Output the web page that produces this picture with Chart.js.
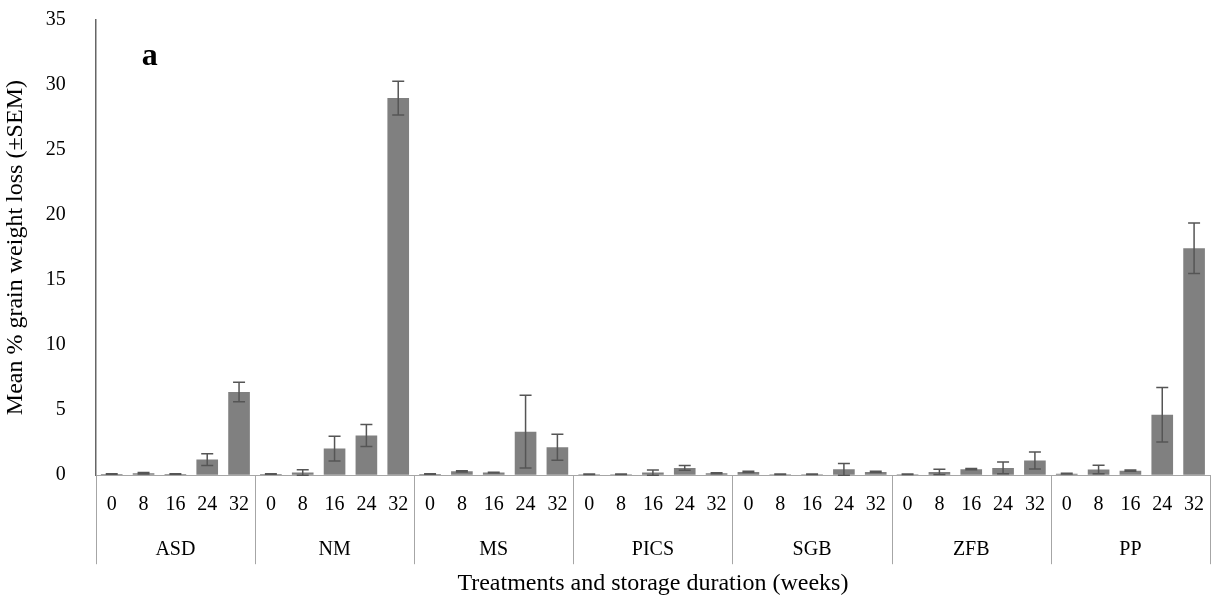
<!DOCTYPE html>
<html>
<head>
<meta charset="utf-8">
<script src="https://cdn.jsdelivr.net/npm/chart.js@4.4.1/dist/chart.umd.min.js"></script>
<style>
  html, body { margin: 0; padding: 0; background: #fff; }
  #wrap { width: 1218px; height: 604px; }
</style>
</head>
<body>
<div id="wrap"><canvas id="myChart"></canvas></div>
<script>
const groups = ["ASD", "NM", "MS", "PICS", "SGB", "ZFB", "PP"];
const weeks = ["0", "8", "16", "24", "32"];

// mean % weight loss, one row of 5 per treatment
const lossASD = [0.1, 0.15, 0.1, 1.2, 6.4];
const lossNM = [0.1, 0.2, 2.05, 3.05, 29.0];
const lossMS = [0.1, 0.3, 0.2, 3.35, 2.15];
const lossPICS = [0.08, 0.08, 0.2, 0.56, 0.15];
const lossSGB = [0.25, 0.07, 0.07, 0.45, 0.25];
const lossZFB = [0.07, 0.25, 0.46, 0.56, 1.13];
const lossPP = [0.12, 0.44, 0.35, 4.65, 17.45];

// SEM
const semASD = [0.02, 0.05, 0.02, 0.45, 0.75];
const semNM = [0.02, 0.22, 0.95, 0.85, 1.3];
const semMS = [0.02, 0.05, 0.03, 2.8, 1.0];
const semPICS = [0.02, 0.02, 0.2, 0.18, 0.03];
const semSGB = [0.05, 0.02, 0.02, 0.45, 0.05];
const semZFB = [0.02, 0.2, 0.05, 0.45, 0.65];
const semPP = [0.03, 0.33, 0.05, 2.1, 1.95];

const yTicks = [0, 5, 10, 15, 20, 25, 30, 35];

const labels = [];
groups.forEach(() => weeks.forEach((w) => labels.push(w)));
const values = [].concat(lossASD, lossNM, lossMS, lossPICS, lossSGB, lossZFB, lossPP);
const errors = [].concat(semASD, semNM, semMS, semPICS, semSGB, semZFB, semPP);

const serif = "'Liberation Serif', 'Times New Roman', serif";

// error bars on top of each bar
const errorBars = {
	id: "errorBars",
	afterDatasetsDraw(chart) {
		const ctx = chart.ctx;
		const y = chart.scales.y;
		const meta = chart.getDatasetMeta(0);
		ctx.save();
		ctx.strokeStyle = "#555";
		ctx.lineWidth = 1.5;
		meta.data.forEach((bar, i) => {
			const top = y.getPixelForValue(values[i] + errors[i]);
			const bot = y.getPixelForValue(Math.max(0, values[i] - errors[i]));
			const cx = bar.x;
			ctx.beginPath();
			ctx.moveTo(cx, top);
			ctx.lineTo(cx, bot);
			ctx.moveTo(cx - 6, top);
			ctx.lineTo(cx + 6, top);
			ctx.moveTo(cx - 6, bot);
			ctx.lineTo(cx + 6, bot);
			ctx.stroke();
		});
		ctx.restore();
	},
};

// group separators below the axis + panel letter
const groupLines = {
	id: "groupLines",
	afterDraw(chart) {
		const ctx = chart.ctx;
		const x = chart.scales.x;
		const area = chart.chartArea;
		const half = (x.getPixelForValue(1) - x.getPixelForValue(0)) / 2;
		ctx.save();
		ctx.strokeStyle = "#a6a6a6";
		ctx.lineWidth = 1;
		for (let g = 0; g <= groups.length; g++) {
			let px;
			if (g < groups.length) px = x.getPixelForValue(g * weeks.length) - half;
			else px = x.getPixelForValue(labels.length - 1) + half;
			px = Math.round(px) + 0.5;
			ctx.beginPath();
			ctx.moveTo(px, area.bottom);
			ctx.lineTo(px, area.bottom + 89);
			ctx.stroke();
		}
		ctx.fillStyle = "#000";
		ctx.font = "bold 32px " + serif;
		ctx.textAlign = "left";
		ctx.textBaseline = "alphabetic";
		ctx.fillText("a", area.left + 46, area.top + 45);
		ctx.restore();
	},
};

const ctx = document.getElementById("myChart").getContext("2d");
const myChart = new Chart(ctx, {
	type: "bar",
	data: {
		labels: labels,
		datasets: [
			{
				data: values,
				backgroundColor: "#808080",
				borderWidth: 0,
				categoryPercentage: 1,
				barPercentage: 0.68,
			},
		],
	},
	options: {
		responsive: true,
		maintainAspectRatio: false,
		animation: false,
		layout: { padding: { top: 13, right: 8, left: 1, bottom: 6 } },
		plugins: {
			legend: { display: false },
			tooltip: { enabled: false },
		},
		scales: {
			x: {
				grid: { display: false },
				border: { color: "#a6a6a6", width: 1 },
				ticks: {
					color: "#000",
					font: { family: serif, size: 20 },
					maxRotation: 0,
					autoSkip: false,
					padding: 10,
				},
			},
			x2: {
				type: "category",
				position: "bottom",
				labels: groups,
				offset: true,
				grid: { display: false },
				border: { display: false },
				ticks: {
					color: "#000",
					font: { family: serif, size: 20 },
					maxRotation: 0,
					padding: 3,
				},
				title: {
					display: true,
					text: "Treatments and storage duration (weeks)",
					color: "#000",
					font: { family: serif, size: 24 },
					padding: { top: 4, bottom: 0 },
				},
			},
			y: {
				min: 0,
				max: 35,
				afterBuildTicks: (scale) => {
					scale.ticks = yTicks.map((v) => ({ value: v }));
				},
				grid: {
					display: true,
					drawOnChartArea: false,
					drawTicks: true,
					tickLength: 22,
					tickColor: "rgba(0,0,0,0)",
				},
				border: { color: "#666", width: 1.5 },
				ticks: {
					color: "#000",
					font: { family: serif, size: 20 },
					padding: 8,
				},
				title: {
					display: true,
					text: "Mean % grain weight loss (±SEM)",
					color: "#000",
					font: { family: serif, size: 24 },
					padding: { top: 0, bottom: 8 },
				},
			},
		},
	},
	plugins: [errorBars, groupLines],
});
</script>
</body>
</html>
